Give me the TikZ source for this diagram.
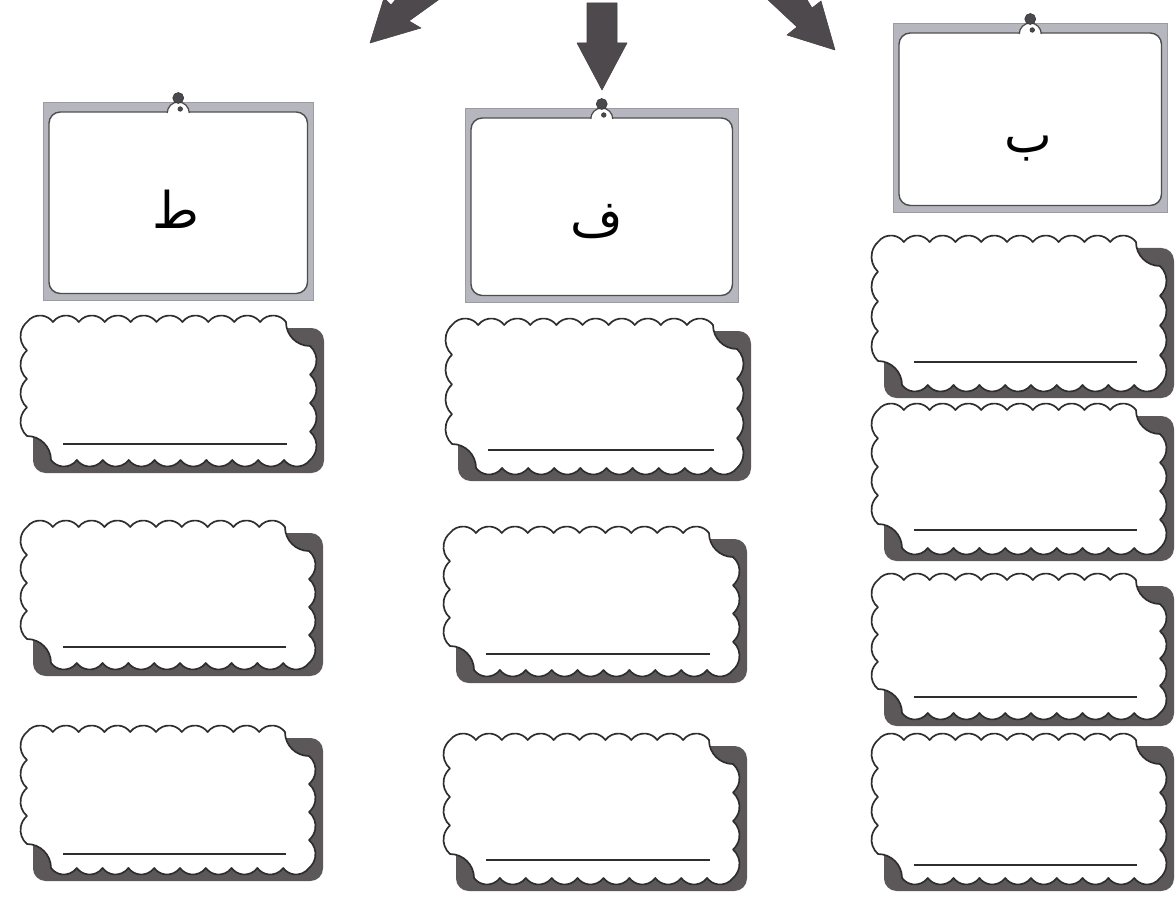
\documentclass[tikz,border=0pt]{standalone}
\usepackage{fontspec}
\newfontfamily\arabicfont[Script=Arabic]{DejaVu Sans}
\TeXXeTstate=1
\definecolor{framegray}{HTML}{B6B6BE}
\definecolor{shadowgray}{HTML}{5C585A}
\definecolor{arrowgray}{HTML}{4E494C}
\definecolor{inkgray}{HTML}{2E2E2E}
\definecolor{pingray}{HTML}{4A4A4E}
\tikzset{
  cardframe/.style={rectangle, fill=framegray, draw=framegray!85!black, line width=0.3pt, inner sep=0pt, anchor=north west},
  cardinner/.style={fill=white, draw=inkgray!85, line width=1pt, rounded corners=8pt},
  scal/.style={fill=white, draw=inkgray, line width=1.2pt, line join=round},
  scalshadow/.style={fill=shadowgray, rounded corners=9pt},
  ansline/.style={draw=inkgray, line width=0.8pt},
  bigarrow/.style={fill=arrowgray, draw=arrowgray!90!black, line width=0.4pt, line join=round},
  letter/.style={font=\arabicfont\fontsize{36}{40}\selectfont, inner sep=0pt, anchor=base},
  pinhead/.style={fill=pingray, draw=pingray!70!black, line width=0.4pt},
}
% scalloped answer box: name, x, y (top-left of base, px), w, h, line offset
\newcommand{\scalbox}[6]{%
  \pgfmathsetmacro{\sbW}{#4}%
  \pgfmathsetmacro{\sbH}{#5}%
  \pgfmathsetmacro{\sbCT}{(\sbW-24)/10}%
  \pgfmathsetmacro{\sbCS}{(\sbH-24)/4}%
  \pgfmathsetmacro{\sbAT}{2*atan(13/\sbCT)}%
  \pgfmathsetmacro{\sbRT}{(\sbCT/2)/sin(\sbAT)}%
  \pgfmathsetmacro{\sbAS}{2*atan(13/\sbCS)}%
  \pgfmathsetmacro{\sbRS}{(\sbCS/2)/sin(\sbAS)}%
  \begin{scope}[shift={(#2,{-(#3)-(#5)})}]
    \fill[scalshadow] (6,-13) rectangle (\sbW+14,\sbH-6);
    \filldraw[scal] (0,\sbH)
      \foreach \k in {1,...,10}{arc[start angle=90+\sbAT, end angle=90-\sbAT, radius=\sbRT]}
      arc[start angle=180, end angle=270, radius=24]
      \foreach \k in {1,...,4}{arc[start angle=\sbAS, end angle=-\sbAS, radius=\sbRS]}
      \foreach \k in {1,...,10}{arc[start angle=-90+\sbAT, end angle=-90-\sbAT, radius=\sbRT]}
      arc[start angle=0, end angle=90, radius=24]
      \foreach \k in {1,...,4}{arc[start angle=180+\sbAS, end angle=180-\sbAS, radius=\sbRS]}
      -- cycle;
    \draw[ansline] (36,#6) -- (\sbW-23,#6);
    \coordinate (#1) at (\sbW/2,\sbH/2);
  \end{scope}}
% card details: name
\newcommand{\cardparts}[1]{%
  \draw[cardinner] ([shift={(6,-10)}]#1.north west) rectangle ([shift={(-6,7)}]#1.south east);
  \fill[white] ([shift={(-11,-11)}]#1.north) arc[start angle=180, end angle=0, radius=11] -- cycle;
  \draw[inkgray!85, line width=0.9pt] ([shift={(-11,-11)}]#1.north) arc[start angle=180, end angle=0, radius=11];
  \fill[pinhead] ([shift={(0,4)}]#1.north) circle[radius=5.5];
  \fill[pinhead] ([shift={(2,-7)}]#1.north) circle[radius=2.3];
}
\begin{document}
\begin{tikzpicture}[x=0.025cm, y=0.025cm]
\useasboundingbox (0,0) rectangle (1176,-899);
\clip (0,0) rectangle (1176,-899);
\fill[white] (0,0) rectangle (1176,-899);

% top arrows
\coordinate (tipL) at (370,-43);
\coordinate (tipM) at (602,-90);
\coordinate (tipR) at (835,-50);
\fill[bigarrow] (tipL) -- (421,-28) -- (409,-21) -- (441,2) -- (397,2) -- (391,-5) -- (384,2) -- cycle;
\fill[bigarrow] (587,-3) -- (617,-3) -- (617,-43) -- (627,-43) -- (tipM) -- (577,-43) -- (587,-43) -- cycle;
\fill[bigarrow] (tipR) -- (787,-35) -- (797,-27) -- (766,2) -- (806,2) -- (812,-8) -- (821,-1) -- cycle;

% cards
\node[cardframe, minimum width=6.75cm, minimum height=4.95cm] (cardT) at (43,-102) {};
\cardparts{cardT}
\node[letter] (letT) at (176,-229) {\beginR ط\endR};

\node[cardframe, minimum width=6.825cm, minimum height=4.85cm] (cardF) at (465,-108) {};
\cardparts{cardF}
\node[letter] (letF) at (597,-237) {\beginR ف\endR};

\node[cardframe, minimum width=6.85cm, minimum height=4.725cm] (cardB) at (893,-23) {};
\cardparts{cardB}
\node[letter] (letB) at (1028,-153) {\beginR ب\endR};

% answer boxes
\scalbox{L1}{27}{322}{283}{138}{16}
\scalbox{L2}{27}{527}{282}{136}{16}
\scalbox{L3}{27}{732}{282}{136}{14}
\scalbox{M1}{452}{325}{285}{143}{18}
\scalbox{M2}{450}{533}{283}{137}{16}
\scalbox{M3}{450}{740}{283}{138}{18}
\scalbox{R1}{878}{242}{282}{143}{23}
\scalbox{R2}{878}{410}{282}{138}{18}
\scalbox{R3}{878}{580}{282}{133}{16}
\scalbox{R4}{878}{740}{282}{138}{13}
\end{tikzpicture}
\end{document}
